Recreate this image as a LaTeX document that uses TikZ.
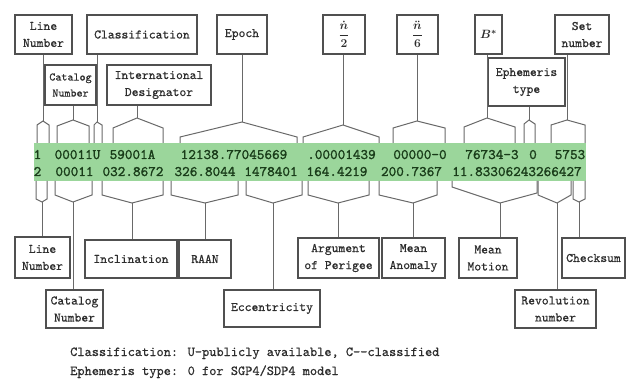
\documentclass[tikz,border=0pt]{standalone}
\usepackage{fontspec}
\usepackage{amsmath}
\newfontfamily\datafont{lmmono10-regular.otf}[AutoFakeBold=1.4]
\newfontfamily\lblfont{lmmono10-regular.otf}[AutoFakeBold=0.6]
\definecolor{boxgray}{RGB}{80,80,80}
\definecolor{conngray}{RGB}{105,105,105}
\definecolor{bandgreen}{RGB}{155,214,155}
\definecolor{datagreen}{RGB}{25,60,25}
\definecolor{txtgray}{RGB}{45,45,45}
\newcommand{\tbr}[7]{\draw[conn] (#1,143) -- (#1,#2) -- (#3,#4) -- (#5,#6) -- (#5,143); \coordinate (#7) at (#3,#4);}
\newcommand{\bbr}[7]{\draw[conn] (#1,181) -- (#1,#2) -- (#3,#4) -- (#5,#6) -- (#5,181); \coordinate (#7) at (#3,#4);}
\begin{document}
\begin{tikzpicture}[x=1pt,y=-1pt,
  box/.style={draw=boxgray, line width=1.1pt, inner sep=0pt, align=center, text=txtgray,
     font=\fontsize{13}{17}\selectfont\lblfont\bfseries},
  mathbox/.style={box, font=\fontsize{13}{17}\selectfont\boldmath},
  conn/.style={draw=conngray, line width=1pt, line join=miter},
  data/.style={inner sep=0pt, anchor=base, text=datagreen, font=\fontsize{14.5}{15}\selectfont\datafont\bfseries},
  foot/.style={inner sep=0pt, anchor=base west, text=txtgray, font=\fontsize{13.7}{16}\selectfont\lblfont\bfseries}]
\useasboundingbox (0,0) rectangle (626,379);
\fill[white] (0,0) rectangle (626,379);
\fill[bandgreen] (34,143) rectangle (586,181);

% data
\node[data] (d1) at (37.5,159) {1};
\node[data] (d2) at (77.5,159) {00011U};
\node[data] (d3) at (132.5,159) {59001A};
\node[data] (d4) at (234,159) {12138.77045669};
\node[data] (d5) at (341.5,159) {.00001439};
\node[data] (d6) at (420,159) {00000-0};
\node[data] (d7) at (492,159) {76734-3};
\node[data] (d8) at (533,159) {0};
\node[data] (d9) at (570,159) {5753};
\node[data] (e1) at (37.5,176) {2};
\node[data] (e2) at (74.5,176) {00011};
\node[data] (e3) at (133,176) {032.8672};
\node[data] (e4) at (205,176) {326.8044};
\node[data] (e5) at (271,176) {1478401};
\node[data] (e6) at (337,176) {164.4219};
\node[data] (e7) at (411.5,176) {200.7367};
\node[data] (e8) at (517,176) {11.83306243266427};

% top boxes
\node[box, minimum width=57, minimum height=39] (lnT) at (43.5,34.5) {Line\\Number};
\node[box, minimum width=110, minimum height=39] (cls) at (142,34.5) {Classification};
\node[box, minimum width=50, minimum height=39] (epo) at (242,34.5) {Epoch};
\node[mathbox, minimum width=42, minimum height=39] (nd2) at (344,34.5) {$\dfrac{\dot{n}}{2}$};
\node[mathbox, minimum width=41, minimum height=39] (nd6) at (417.5,34.5) {$\dfrac{\ddot{n}}{6}$};
\node[mathbox, minimum width=27, minimum height=39] (bst) at (488.5,34.5) {$B^{*}$};
\node[box, minimum width=54, minimum height=39] (set) at (582,34.5) {Set\\number};
\node[box, minimum width=51, minimum height=40, font=\fontsize{11.5}{16}\selectfont\lblfont\bfseries] (catT) at (70.5,85) {Catalog\\Number};
\node[box, minimum width=104, minimum height=40] (intl) at (159,85) {International\\Designator};
\node[box, minimum width=77, minimum height=48] (eph) at (526.5,82) {Ephemeris\\type};

% bottom boxes
\node[box, minimum width=55, minimum height=41] (lnB) at (42.5,257.5) {Line\\Number};
\node[box, minimum width=57, minimum height=38] (catB) at (74.5,309) {Catalog\\Number};
\node[box, minimum width=92, minimum height=38] (inc) at (131,259) {Inclination};
\node[box, minimum width=52, minimum height=38] (raan) at (205,259) {RAAN};
\node[box, minimum width=96, minimum height=37] (ecc) at (272,308.5) {Eccentricity};
\node[box, minimum width=81, minimum height=40] (arg) at (338.5,258) {Argument\\of Perigee};
\node[box, minimum width=63, minimum height=40] (man) at (413.5,258) {Mean\\Anomaly};
\node[box, minimum width=58, minimum height=40] (mmo) at (488,258) {Mean\\Motion};
\node[box, minimum width=81, minimum height=38] (rev) at (555.5,309) {Revolution\\number};
\node[box, minimum width=63, minimum height=40] (chk) at (593.5,258) {Checksum};

% top brackets
\tbr{37}{125}{43}{121}{49}{125}{t1}
\tbr{57}{126}{73}{120}{89}{126}{t2}
\tbr{94}{125}{97}{122}{102}{125}{t3}
\tbr{113}{128}{137}{118}{163}{128}{t4}
\tbr{180}{137}{242}{122}{297}{137}{t5}
\tbr{303}{137}{343}{125}{379}{137}{t6}
\tbr{393}{128}{417}{121}{445}{128}{t7}
\tbr{464}{127}{487}{118}{515}{127}{t8}
\tbr{524}{124}{529}{120}{535}{124}{t9}
\tbr{551}{125}{567}{120}{585}{125}{t10}
\draw[conn] (t1) -- (t1 |- lnT.south);
\draw[conn] (t2) -- (t2 |- catT.south);
\draw[conn] (t3) -- (t3 |- cls.south);
\draw[conn] (t4) -- (t4 |- intl.south);
\draw[conn] (t5) -- (t5 |- epo.south);
\draw[conn] (t6) -- (t6 |- nd2.south);
\draw[conn] (t7) -- (t7 |- nd6.south);
\draw[conn] (t8) -- (t8 |- bst.south);
\draw[conn] (t9) -- (t9 |- eph.south);
\draw[conn] (t10) -- (t10 |- set.south);

% bottom brackets
\bbr{36}{199}{42}{202}{47}{199}{b1}
\bbr{55}{195}{73}{202}{92}{195}{b2}
\bbr{102}{195}{132}{203}{163}{195}{b3}
\bbr{171}{195}{205}{203}{238}{195}{b4}
\bbr{246}{195}{273}{203}{302}{195}{b5}
\bbr{308}{195}{338}{203}{369}{195}{b6}
\bbr{379}{195}{413}{203}{437}{195}{b7}
\bbr{452}{187}{500}{203}{537}{193}{b8}
\bbr{538}{195}{557}{203}{571}{195}{b9}
\bbr{573}{199}{579}{202}{585}{199}{b10}
\draw[conn] (b1) -- (b1 |- lnB.north);
\draw[conn] (b2) -- (b2 |- catB.north);
\draw[conn] (b3) -- (b3 |- inc.north);
\draw[conn] (b4) -- (b4 |- raan.north);
\draw[conn] (b5) -- (b5 |- ecc.north);
\draw[conn] (b6) -- (b6 |- arg.north);
\draw[conn] (b7) -- (b7 |- man.north);
\draw[conn] (b8) -- (b8 |- mmo.north);
\draw[conn] (b9) -- (b9 |- rev.north);
\draw[conn] (b10) -- (b10 |- chk.north);

% footer
\node[foot] (f1) at (70,356) {Classification: U-publicly available, C——classified};
\node[foot] (f2) at (70,375) {Ephemeris type: 0 for SGP4/SDP4 model};
\end{tikzpicture}
\end{document}
